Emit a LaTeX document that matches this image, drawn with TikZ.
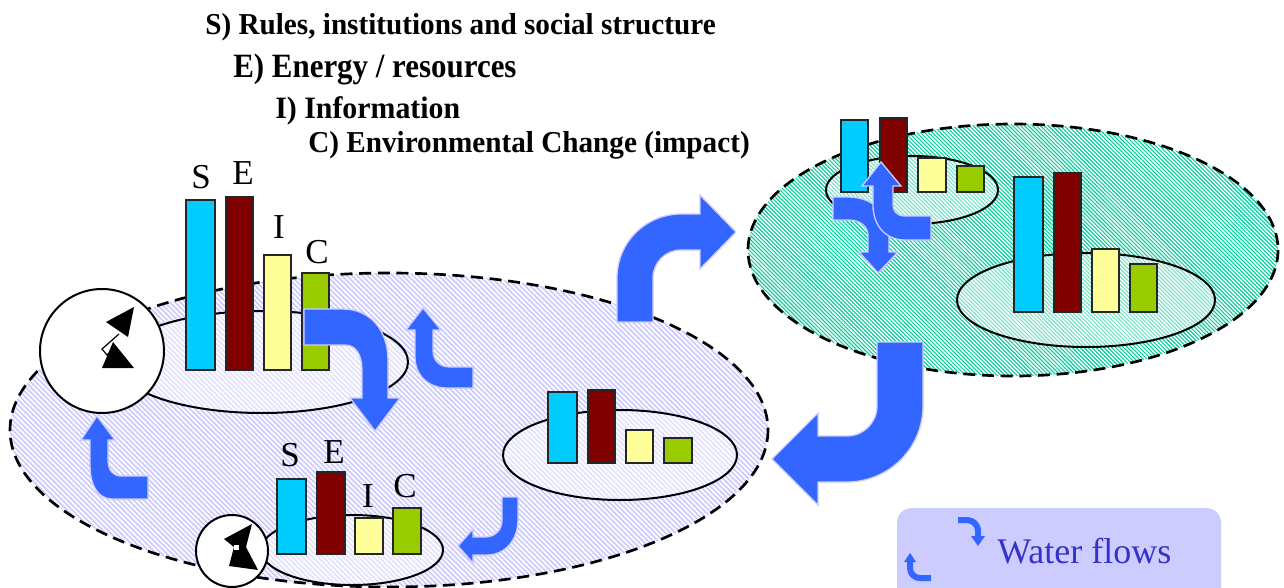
\documentclass[tikz,border=0pt]{standalone}
\usepackage{fontspec}
\usepackage{graphicx}
\setmainfont{Liberation Serif}
\usetikzlibrary{patterns.meta}
\definecolor{lav}{HTML}{CCCCFF}
\definecolor{grn}{HTML}{00CC99}
\definecolor{flow}{HTML}{3366FF}
\definecolor{sbar}{HTML}{00CCFF}
\definecolor{ebar}{HTML}{800000}
\definecolor{ibar}{HTML}{FFFF99}
\definecolor{cbar}{HTML}{99CC00}
\definecolor{wtext}{HTML}{3333CC}
\tikzset{
  dashedge/.style={draw=black, line width=2pt, dash pattern=on 9pt off 5pt},
  innerell/.style={draw=black, line width=1.5pt, fill=white, fill opacity=0.45},
  agent/.style={draw=black, line width=1.5pt, fill=white},
  bar/.style={draw=black!85, line width=1.6pt},
  flowarrow/.style={fill=flow, draw=lav, line width=1pt, line join=miter},
  lbl/.style={font=\fontsize{26.25}{26.25}\selectfont, anchor=base, inner sep=0pt},
  ttl/.style={anchor=base west, inner sep=0pt}
}
\begin{document}
\begin{tikzpicture}[x=0.75pt,y=-0.75pt]
\useasboundingbox (0,0) rectangle (1284,588);
\clip (0,0) rectangle (1284,588);

% outer lavender system
\path[fill=lav] (389,430) ellipse [x radius=379, y radius=157];
\path[pattern={Lines[angle=-45,distance=2.7pt,line width=1.2pt]}, pattern color=white] (389,430) ellipse [x radius=379, y radius=157];
\path[dashedge] (389,430) ellipse [x radius=379, y radius=157];

% outer green system
\path[fill=grn] (1013,250) ellipse [x radius=265, y radius=126];
\path[pattern={Lines[angle=-45,distance=2.1pt,line width=1.1pt]}, pattern color=white] (1013,250) ellipse [x radius=265, y radius=126];
\path[dashedge] (1013,250) ellipse [x radius=265, y radius=126];

% inner ellipses
\path[innerell] (262,362) ellipse [x radius=146, y radius=51];
\path[innerell] (620,455) ellipse [x radius=117, y radius=45];
\path[innerell] (352,550) ellipse [x radius=91, y radius=35];
\path[innerell] (912,190) ellipse [x radius=86, y radius=34];
\path[innerell] (1086,300) ellipse [x radius=129, y radius=47];

% agents (circles with figures)
\path[agent] (102,351) circle [radius=62];
\fill (106,322) -- (134,307) -- (128,337) -- cycle;
\fill (102,368) -- (134,368) -- (113,342) -- cycle;
\draw[line width=0.9pt] (119,334) -- (102,349) -- (107,355) -- (112,350);
\path[agent] (232,551) circle [radius=36];
\fill (252,524) -- (224,539) -- (234,547) -- (229,566) -- (258,570) -- (246,547) -- cycle;
\fill[white] (234,545) rectangle (239,550);

% bars: top-left system
\path[bar, fill=sbar] (186,370) rectangle (215,200);
\path[bar, fill=ebar] (226,370) rectangle (253,197);
\path[bar, fill=ibar] (264,370) rectangle (291,255);
\path[bar, fill=cbar] (302,370) rectangle (329,273);
\node[lbl] (lS1) at (201,188) {S};
\node[lbl] (lE1) at (243,185) {E};
\node[lbl] (lI1) at (279,238) {I};
\node[lbl] (lC1) at (317,263) {C};

% bars: bottom system
\path[bar, fill=sbar] (277,554) rectangle (306,479);
\path[bar, fill=ebar] (317,554) rectangle (345,472);
\path[bar, fill=ibar] (355,554) rectangle (383,518);
\path[bar, fill=cbar] (393,554) rectangle (421,508);
\node[lbl] (lS2) at (290,466) {S};
\node[lbl] (lE2) at (334,463) {E};
\node[lbl] (lI2) at (368,507) {I};
\node[lbl] (lC2) at (405,497) {C};

% bars: middle system
\path[bar, fill=sbar] (548,463) rectangle (577,392);
\path[bar, fill=ebar] (588,463) rectangle (615,390);
\path[bar, fill=ibar] (626,463) rectangle (653,430);
\path[bar, fill=cbar] (664,463) rectangle (692,438);

% bars: green small system
\path[bar, fill=sbar] (841,192) rectangle (868,120);
\path[bar, fill=ebar] (880,192) rectangle (907,118);
\path[bar, fill=ibar] (918,192) rectangle (946,158);
\path[bar, fill=cbar] (957,192) rectangle (984,166);

% bars: green big system
\path[bar, fill=sbar] (1014,312) rectangle (1043,177);
\path[bar, fill=ebar] (1054,312) rectangle (1081,173);
\path[bar, fill=ibar] (1092,312) rectangle (1119,249);
\path[bar, fill=cbar] (1130,312) rectangle (1157,264);

% titles
\node[ttl, font=\bfseries\fontsize{21.9}{22}\selectfont] (tS) at (205,35) {\scalebox{1}[1.04]{S) Rules, institutions and social structure}};
\node[ttl, font=\bfseries\fontsize{23.2}{23}\selectfont] (tE) at (233,78) {\scalebox{1}[1.1]{E) Energy / resources}};
\node[ttl, font=\bfseries\fontsize{22.4}{22}\selectfont] (tI) at (275,119) {\scalebox{1}[1.04]{I) Information}};
\node[ttl, font=\bfseries\fontsize{21.9}{22}\selectfont] (tC) at (308,152) {\scalebox{1}[1.04]{C) Environmental Change (impact)}};

% water flow arrows
\path[flowarrow] (617,322) -- (617,278) .. controls (617,242.6) and (645.6,214) .. (681,214) -- (700,214) -- (700,195) -- (736,232) -- (700,269) -- (700,250) -- (681,250) .. controls (665.5,250) and (653,262.5) .. (653,278) -- (653,322) -- cycle;
\path[flowarrow] (877,342) -- (923,342) -- (923,406) .. controls (923,448) and (889,482) .. (847,482) -- (818,482) -- (818,505) -- (772,459) -- (818,413) -- (818,436) -- (847,436) .. controls (863.6,436) and (877,422.6) .. (877,406) -- cycle;
\path[flowarrow] (304,309) -- (343,309) .. controls (370,309) and (388,330) .. (388,360) -- (388,398) -- (400,398) -- (375,431) -- (350,398) -- (362,398) -- (362,370) .. controls (362,355) and (356,345) .. (345,345) -- (304,345) -- cycle;
\path[flowarrow] (423,308) -- (441,330) -- (433,330) -- (433,350) .. controls (433,361) and (440,367) .. (450,367) -- (473,367) -- (473,388) -- (447,388) .. controls (428,388) and (415,375) .. (415,357) -- (415,330) -- (406,330) -- cycle;
\path[flowarrow] (97,416) -- (115,440) -- (108,440) -- (108,460) .. controls (108,470) and (113,476) .. (121,476) -- (148,476) -- (148,499) -- (112,499) .. controls (98,499) and (90,485) .. (90,465) -- (90,440) -- (81,440) -- cycle;
\path[flowarrow] (502,497) -- (518,497) -- (518,520) .. controls (518,540) and (505,555) .. (487,555) -- (473,555) -- (473,563) -- (458,546) -- (473,529) -- (473,537) -- (485,537) .. controls (495,537) and (502,530) .. (502,520) -- cycle;
\path[flowarrow] (833,197) -- (848,197) .. controls (872,197) and (889,212) .. (889,236) -- (889,252) -- (898,252) -- (878,273) -- (859,252) -- (868,252) -- (868,236) .. controls (868,226) and (860,220) .. (848,220) -- (833,220) -- cycle;
\path[flowarrow] (881,162) -- (901,186) -- (893,186) -- (893,205) .. controls (893,211) and (897,216) .. (905,216) -- (931,216) -- (931,240) -- (905,240) .. controls (886,240) and (873,226) .. (873,205) -- (873,186) -- (862,186) -- cycle;

% legend
\path[fill=lav, rounded corners=11pt] (897,508) rectangle (1221,610);
\fill[flow] (958,517) -- (966,517) .. controls (975,517) and (981,523) .. (981,531) -- (981,536) -- (985,536) -- (978,546) -- (971,536) -- (975,536) -- (975,531) .. controls (975,526) and (971,523) .. (966,523) -- (958,523) -- cycle;
\fill[flow] (910,553) -- (916,562) -- (913,562) -- (913,568) .. controls (913,572) and (916,575) .. (920,575) -- (931,575) -- (931,581) -- (920,581) .. controls (912,581) and (907,575) .. (907,568) -- (907,562) -- (904,562) -- cycle;
\node[ttl, text=wtext, font=\fontsize{27}{27}\selectfont] (wf) at (997,563) {Water flows};
\end{tikzpicture}
\end{document}
